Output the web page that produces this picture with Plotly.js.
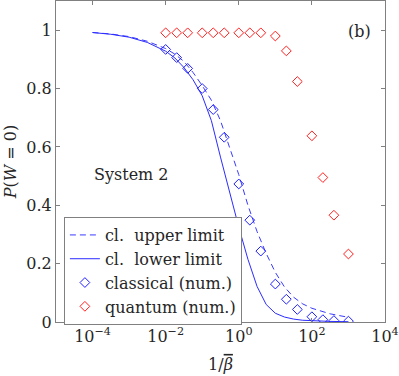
<!DOCTYPE html>
<html>
<head>
<meta charset="utf-8">
<script src="https://cdn.plot.ly/plotly-3.0.1.min.js"></script>
<style>
  html, body { margin: 0; padding: 0; background: #fff; }
  #plot { width: 399px; height: 376px; }
</style>
</head>
<body>
<div id="plot"></div>
<script>
// numerical points (1/beta)
const xNum = [0.01, 0.02, 0.04, 0.1, 0.2, 0.4, 1, 2, 4, 10, 20, 40, 100, 200, 400, 1000];
const pClassical = [0.934, 0.906, 0.869, 0.80, 0.728, 0.633, 0.473, 0.349, 0.243, 0.130, 0.078, 0.043, 0.018, 0.008, 0.005, 0.003];
const pQuantum = [0.991, 0.991, 0.991, 0.991, 0.991, 0.991, 0.991, 0.991, 0.991, 0.98, 0.929, 0.824, 0.638, 0.495, 0.366, 0.233];

// limits
const xCurve = [1e-4, 3.16e-4, 1e-3, 3.16e-3, 0.01, 0.0178, 0.0316, 0.0562, 0.1, 0.178, 0.316, 0.562,
  1, 1.78, 3.16, 5.62, 10, 17.8, 31.6, 56.2, 100, 316, 1000];
const pUpper = [0.992, 0.987, 0.978, 0.962, 0.937, 0.918, 0.893, 0.855, 0.81, 0.76, 0.69, 0.60,
  0.505, 0.40, 0.31, 0.235, 0.17, 0.12, 0.085, 0.062, 0.047, 0.028, 0.016];
const pLower = [0.992, 0.986, 0.976, 0.958, 0.928, 0.905, 0.872, 0.83, 0.775, 0.69, 0.565, 0.44,
  0.325, 0.215, 0.122, 0.06, 0.03, 0.017, 0.01, 0.006, 0.004, 0.002, 0.001];

const xTicks = [1e-4, 1e-2, 1, 1e2, 1e4];
const xTickText = ["10<sup>\u22124</sup>", "10<sup>\u22122</sup>", "10<sup>0</sup>", "10<sup>2</sup>", "10<sup>4</sup>"];
const yTicks = [0, 0.2, 0.4, 0.6, 0.8, 1];
const yTickText = ["0", "0.2", "0.4", "0.6", "0.8", "1"];

const serif = "DejaVu Serif, serif";
const txt = "#262626";

var data = [
  {
    x: xCurve, y: pUpper, type: "scatter", mode: "lines",
    name: "cl.  upper limit",
    line: { color: "#3a3aff", width: 1, dash: "6px,4px" },
  },
  {
    x: xCurve, y: pLower, type: "scatter", mode: "lines",
    name: "cl.  lower limit",
    line: { color: "#2b2bff", width: 1 },
  },
  {
    x: xNum, y: pClassical, type: "scatter", mode: "markers",
    name: "classical (num.)",
    marker: { symbol: "diamond-open", size: 7.5, color: "#1f1fff", line: { width: 1 } },
  },
  {
    x: xNum, y: pQuantum, type: "scatter", mode: "markers",
    name: "quantum (num.)",
    marker: { symbol: "diamond-open", size: 7.5, color: "#ff2020", line: { width: 1 } },
  },
];

var layout = {
  width: 399,
  height: 376,
  margin: { l: 56, r: 14, t: 1, b: 54 },
  paper_bgcolor: "#fff",
  plot_bgcolor: "#fff",
  font: { family: serif, size: 16, color: txt },
  showlegend: true,
  legend: {
    x: 0.024, y: 0.327, xanchor: "left", yanchor: "top",
    bgcolor: "#fff", bordercolor: "#808080", borderwidth: 1,
    font: { family: serif, size: 16, color: txt },
    tracegroupgap: 0,
  },
  xaxis: {
    type: "log",
    range: [-5, 4],
    tickmode: "array",
    tickvals: xTicks,
    ticktext: xTickText,
    ticks: "inside",
    ticklen: 4,
    tickcolor: "#808080",
    showline: true,
    linecolor: "#808080",
    mirror: "ticks",
    showgrid: false,
    zeroline: false,
    title: {
      text: "1/<i><span style=\"text-decoration:overline\">\u03b2</span></i>",
      standoff: 13, font: { family: serif, size: 16, color: txt },
    },
  },
  yaxis: {
    range: [0, 1.1],
    tickmode: "array",
    tickvals: yTicks,
    ticktext: yTickText,
    ticks: "inside",
    ticklen: 4,
    tickcolor: "#808080",
    showline: true,
    linecolor: "#808080",
    mirror: "ticks",
    showgrid: false,
    zeroline: false,
    title: { text: "<i>P</i>(<i>W</i> = 0)", standoff: 5, font: { family: serif, size: 16, color: txt } },
  },
  annotations: [
    { text: "(b)", xref: "paper", yref: "paper", x: 0.965, y: 0.905, xanchor: "right", yanchor: "middle",
      showarrow: false, font: { family: serif, size: 16, color: txt } },
    { text: "System 2", xref: "paper", yref: "paper", x: 0.11, y: 0.458, xanchor: "left", yanchor: "middle",
      showarrow: false, font: { family: serif, size: 16, color: txt } },
  ],
};

Plotly.newPlot("plot", data, layout, { displayModeBar: false, staticPlot: true });
</script>
</body>
</html>
